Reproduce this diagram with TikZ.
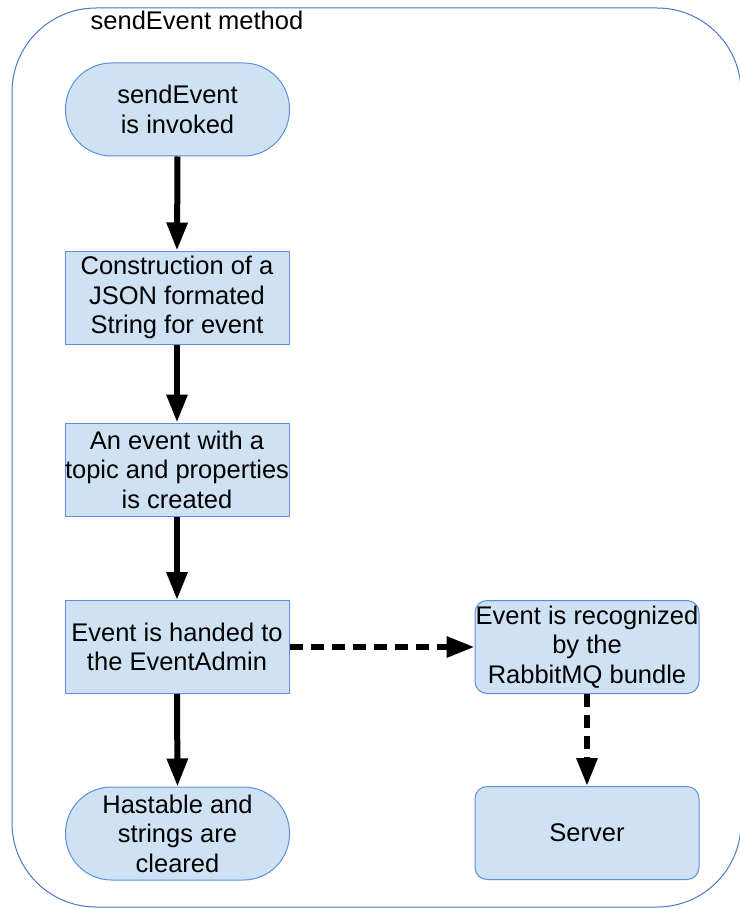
\documentclass[tikz,border=0pt]{standalone}
\usepackage{fontspec}
\setmainfont{Liberation Sans}
\usetikzlibrary{arrows.meta}
\definecolor{boxfill}{HTML}{CFE2F3}
\definecolor{boxline}{HTML}{5F8FDB}
\definecolor{frameline}{HTML}{4A78C8}
\tikzset{
  base/.style={draw=boxline, fill=boxfill, line width=1pt, minimum width=224pt, minimum height=93pt,
    align=center, inner sep=0pt, font=\fontsize{25.5}{29.5}\selectfont},
  terminal/.style={base, rounded corners=46pt},
  procbox/.style={base},
  softbox/.style={base, rounded corners=12pt},
  flow/.style={line width=6pt, -{Triangle[length=28pt,width=20pt]}},
  dflow/.style={flow, dash pattern=on 13pt off 8pt},
}
\begin{document}
\begin{tikzpicture}[x=1pt,y=-1pt]
\useasboundingbox (0,0) rectangle (739,909);
\fill[white] (0,0) rectangle (739,909);
\draw[frameline, line width=1pt, rounded corners=84pt] (12,8) rectangle (741,907);
\node[font=\fontsize{25.5}{29.5}\selectfont, anchor=base] (title) at (197,30) {sendEvent method};

\node[terminal] (start) at (177.5,109.5) {sendEvent\\ is invoked};
\node[procbox] (json) at (177,297.5) {Construction of a\\JSON formated\\String for event};
\node[procbox] (create) at (177,469.5) {An event with a\\topic and properties\\is created};
\node[procbox] (hand) at (177,647) {Event is handed to\\the EventAdmin};
\node[terminal] (clear) at (177.5,833.5) {Hastable and\\strings are\\cleared};
\node[softbox] (rabbit) at (587,647) {Event is recognized\\by the\\RabbitMQ bundle};
\node[softbox] (server) at (587,833) {Server};

\draw[flow] (start.south) -- (json.north);
\draw[flow] (json.south) -- (create.north);
\draw[flow] (create.south) -- (hand.north);
\draw[flow] (hand.south) -- (clear.north);
\draw[dflow] (hand.east) -- (rabbit.west);
\draw[dflow] (rabbit.south) -- (server.north);
\end{tikzpicture}
\end{document}
